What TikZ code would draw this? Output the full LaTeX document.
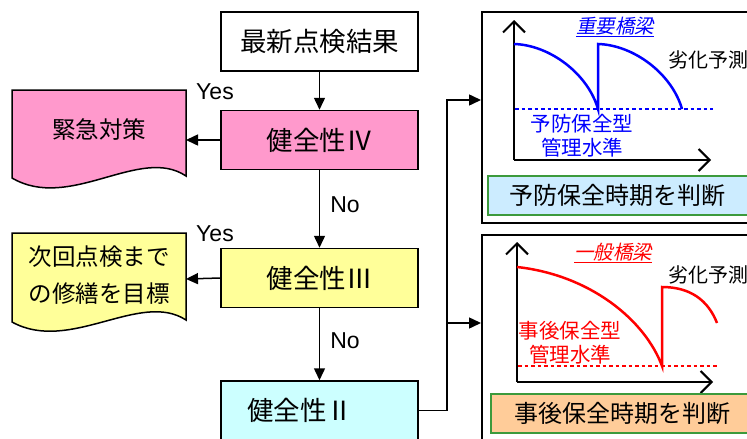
\documentclass[tikz,border=0pt]{standalone}
\usepackage{fontspec}
\setmainfont{Liberation Sans}
\newfontfamily\jp{Noto Sans CJK JP}
\newfontfamily\jpit[FakeSlant=0.2]{Noto Sans CJK JP}
\usetikzlibrary{arrows.meta}
\definecolor{cpink}{HTML}{FF99CC}
\definecolor{cyel}{HTML}{FFFF99}
\definecolor{ccyan}{HTML}{CCFFFF}
\definecolor{cgreen}{HTML}{3C9A3C}
\definecolor{clblue}{HTML}{CCECFF}
\definecolor{corange}{HTML}{FFCC99}
\definecolor{cblue}{HTML}{0000FF}
\definecolor{cred}{HTML}{FF0000}
\begin{document}
\begin{tikzpicture}[x=1pt,y=-1pt,
  box/.style={draw, line width=1.5pt, minimum width=197pt, minimum height=59pt, inner sep=0pt, font=\jp\fontsize{26.5}{29}\selectfont},
  arr/.style={line width=1.5pt, -{Triangle[length=12pt,width=11pt]}},
  axis/.style={line width=2pt, -{Straight Barb[length=11pt,width=22pt]}},
  lbl/.style={font=\fontsize{23}{26}\selectfont, inner sep=0pt},
  doctext/.style={font=\jp\fontsize{23.5}{37}\selectfont, align=center, inner sep=0pt},
  curve/.style={line width=2.5pt},
  lvl/.style={line width=2pt, dash pattern=on 3.5pt off 3pt},
  judge/.style={draw=cgreen, line width=1.2pt},
  small/.style={font=\jp\fontsize{20}{23}\selectfont, inner sep=0pt}
]
\useasboundingbox (0,0) rectangle (747,439);
\fill[white] (0,0) rectangle (747,439);

% flow boxes
\node (top) [box, fill=white] at (319.5,41.5) {最新点検結果};
\node (iv)  [box, fill=cpink] at (319.5,140) {健全性Ⅳ};
\node (iii) [box, fill=cyel]  at (319.5,278) {健全性Ⅲ};
\node (ii)  [box, fill=ccyan] at (319.5,410.5) {};
\node (iit) [font=\jp\fontsize{26.5}{29}\selectfont, inner sep=0pt] at (300,410) {健全性Ⅱ};

\draw[arr] (top) -- (iv);
\draw[arr] (iv) -- node[lbl, right=10pt, pos=0.45] (no1) {No} (iii);
\draw[arr] (iii) -- node[lbl, right=10pt, pos=0.45] (no2) {No} (ii);

% documents
\draw[line width=1.5pt, fill=cpink] (12,90) -- (186,90) -- (186,176)
  .. controls (140,145) and (70,212) .. (12,178) -- cycle;
\node (d1) [doctext] at (99,130) {緊急対策};
\coordinate (d1e) at (186,140);

\draw[line width=1.5pt, fill=cyel] (12,233) -- (186,233) -- (186,320)
  .. controls (140,290) and (70,354) .. (12,322) -- cycle;
\node (d2) [doctext] at (99,275) {次回点検まで\\の修繕を目標};
\coordinate (d2e) at (186,279);

\draw[arr] (iv.west) -- (d1e);
\draw[arr] (iii.west) -- (d2e);
\node (y1) [lbl] at (215,92) {Yes};
\node (y2) [lbl] at (215,234) {Yes};

% right connectors
\coordinate (p1w) at (481,100);
\coordinate (p2w) at (481,323);
\coordinate (j1) at (447,410.5);
\coordinate (j2) at (447,100);
\coordinate (j3) at (447,323);
\draw[arr] (ii.east) -- (j1) -- (j2) -- (p1w);
\draw[arr] (j3) -- (p2w);

% panels
\draw[line width=1.5pt] (482,12) rectangle (770,223);
\draw[line width=1.5pt] (482,235) rectangle (770,460);

% chart 1
\draw[axis] (514,160) -- (514,20);
\draw[axis] (514,160) -- (711,160);
\draw[lvl, cblue] (515,109) -- (713,109);
\draw[curve, cblue] (514,44) .. controls (550,45) and (588,74) .. (598,109)
  -- (598,44) .. controls (634,45) and (672,74) .. (682,109);
\node (t1) [font=\jpit\fontsize{19.5}{22}\selectfont, text=cblue, inner sep=0pt] at (615,27) {\underline{重要橋梁}};
\node (f1) [small, anchor=west] at (668,60) {劣化予測};
\node (m1) [small, text=cblue, align=center, font=\jp\fontsize{20.5}{24}\selectfont] at (582,136) {予防保全型\\管理水準};
\draw[judge, fill=clblue] (488,176) rectangle (770,215);
\node (j1t) [font=\jp\fontsize{24}{26}\selectfont, inner sep=0pt] at (617,195.5) {予防保全時期を判断};

% chart 2
\draw[axis] (517,382) -- (517,242);
\draw[axis] (517,382) -- (713,382);
\draw[lvl, cred] (518,366) -- (717,366);
\draw[curve, cred] (517,267) .. controls (590,275) and (645,320) .. (662,366)
  -- (662,287) .. controls (690,287) and (708,300) .. (717,323);
\node (t2) [font=\jpit\fontsize{19.5}{22}\selectfont, text=cred, inner sep=0pt] at (613,253) {\underline{一般橋梁}};
\node (f2) [small, anchor=west] at (668,275) {劣化予測};
\node (m2) [small, text=cred, align=center, font=\jp\fontsize{20.5}{24}\selectfont] at (570,343) {事後保全型\\管理水準};
\draw[judge, fill=corange] (491,394) rectangle (770,433);
\node (j2t) [font=\jp\fontsize{24}{26}\selectfont, inner sep=0pt] at (622,413.5) {事後保全時期を判断};
\end{tikzpicture}
\end{document}
